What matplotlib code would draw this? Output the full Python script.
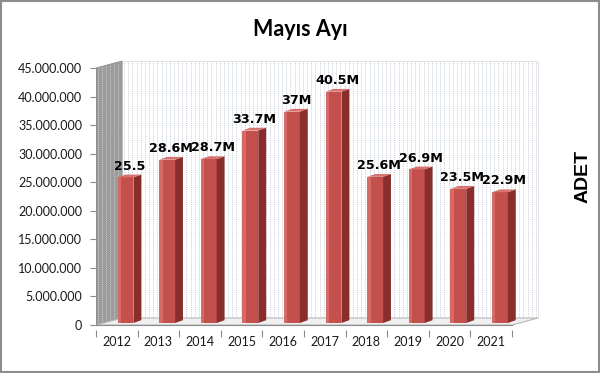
import matplotlib
matplotlib.use("Agg")
import matplotlib.pyplot as plt
from matplotlib.patches import Polygon, Rectangle
import numpy as np

years = ["2012", "2013", "2014", "2015", "2016", "2017", "2018", "2019", "2020", "2021"]
values = [25.5e6, 28.6e6, 28.7e6, 33.7e6, 37.0e6, 40.5e6, 25.6e6, 26.9e6, 23.5e6, 22.9e6]
value_labels = ["25.5", "28.6M", "28.7M", "33.7M", "37M", "40.5M", "25.6M", "26.9M", "23.5M", "22.9M"]
yticks = [0, 5e6, 10e6, 15e6, 20e6, 25e6, 30e6, 35e6, 40e6, 45e6]
title = "Mayıs Ayı"
ylabel = "ADET"

W, H = 600, 373
fig = plt.figure(figsize=(W / 100, H / 100), dpi=100)
fig.patch.set_facecolor("white")

# axes layout (pixel based)
px_left, px_right, px_top, px_bot = 96, 545, 58, 330
ppu = 41.6                    # pixels per category
ppv = 257 / 45e6              # pixels per value unit
ax = fig.add_axes([px_left / W, 1 - px_bot / H, (px_right - px_left) / W, (px_bot - px_top) / H])
ax.set_xlim(-0.5, -0.5 + (px_right - px_left) / ppu)
ax.set_ylim(-(px_bot - 325) / ppv, 45e6 + (68 - px_top) / ppv)
for s in ax.spines.values():
    s.set_visible(False)
ax.patch.set_alpha(0)

n = len(years)
dx, dy = 0.625, 7 / ppv       # depth offset of the plot box
ymax = yticks[-1]

# back wall
ax.add_patch(Polygon([(-0.5 + dx, dy), (n - 0.5 + dx, dy), (n - 0.5 + dx, ymax + dy), (-0.5 + dx, ymax + dy)],
                     closed=True, facecolor="white", edgecolor="#dcdcdc", lw=0.6, zorder=1))
for xv in np.arange(-0.5 + dx + 0.05, n - 0.5 + dx, 0.1):
    ax.vlines(xv, dy, ymax + dy, colors="#c4ccd6", lw=0.7, linestyles=(0, (1, 1.2)), zorder=1.2)

# left side wall
ax.add_patch(Polygon([(-0.5, 0), (-0.5 + dx, dy), (-0.5 + dx, ymax + dy), (-0.5, ymax)],
                     closed=True, facecolor="#9c9c9c", edgecolor="none", lw=0, zorder=1.5))
for xv in np.arange(-0.5 + 0.04, -0.5 + dx, 0.1):
    yb = (xv + 0.5) / dx * dy
    ax.vlines(xv, yb, ymax + yb, colors="#cdcdcd", lw=0.7, linestyles=(0, (1, 1.2)), zorder=1.55)
ax.add_patch(Polygon([(-0.5, 0), (-0.5 + dx, dy), (-0.5 + dx, ymax + dy), (-0.5, ymax)],
                     closed=True, fill=False, edgecolor="#8f8f8f", lw=0.6, zorder=1.6))

# floor
ax.add_patch(Polygon([(-0.5, 0), (n - 0.5, 0), (n - 0.5 + dx, dy), (-0.5 + dx, dy)],
                     closed=True, facecolor="#f0f0f0", edgecolor="#b8b8b8", lw=0.8, zorder=1.7))

# bars
b0 = 0.35e6
bdx, bdy = 0.19, 2.8 / ppv
for i, v in enumerate(values):
    x0, x1 = i + 0.02, i + 0.40
    ax.add_patch(Polygon([(x0, b0), (x1, b0), (x1, b0 + v), (x0, b0 + v)], closed=True,
                         facecolor="#C4504D", edgecolor="none", zorder=3))
    ax.add_patch(Polygon([(x0, b0), (x0 + 0.08, b0), (x0 + 0.08, b0 + v), (x0, b0 + v)], closed=True,
                         facecolor="#D66A66", edgecolor="none", zorder=3.1))
    ax.add_patch(Polygon([(x1, b0), (x1 + bdx, b0 + bdy), (x1 + bdx, b0 + v + bdy), (x1, b0 + v)], closed=True,
                         facecolor="#8A2E2C", edgecolor="none", zorder=3))
    ax.add_patch(Polygon([(x0, b0 + v), (x1, b0 + v), (x1 + bdx, b0 + v + bdy), (x0 + bdx, b0 + v + bdy)],
                         closed=True, facecolor="#D8726E", edgecolor="none", zorder=3.2))
    ax.text((x0 + x1 + bdx) / 2, b0 + v + bdy + 5 / ppv, value_labels[i], ha="center", va="baseline",
            fontsize=9.2, fontweight="bold", family="DejaVu Sans", color="black", zorder=5)

# y axis line and ticks
ax.plot([-0.5, -0.5], [0, ymax], color="#8c8c8c", lw=0.8, zorder=2)
ax.set_yticks(yticks)
ax.set_yticklabels([f"{int(t):,}".replace(",", ".") for t in yticks], family="Lato", fontsize=9, color="#1a1a1a")
ax.tick_params(axis="y", length=4, width=0.8, color="#8c8c8c", pad=6)

# x axis
ax.set_xticks(range(n))
ax.set_xticklabels(years, family="Lato", fontsize=9, color="#1a1a1a")
ax.set_xticks(np.arange(-0.5, n, 1.0), minor=True)
ax.tick_params(axis="x", which="major", length=0, pad=4)
ax.tick_params(axis="x", which="minor", length=5, width=0.8, color="#8c8c8c")
ax.plot([-0.5, n - 0.5], [0, 0], color="#8c8c8c", lw=0.8, zorder=2)

fig.text(300 / W, 1 - 30 / H, title, ha="center", va="center", fontsize=15.5, fontweight="bold", family="Lato")
fig.text(583 / W, 1 - 176 / H, ylabel, ha="center", va="center", rotation=90, fontsize=14,
         fontweight="bold", family="Liberation Sans")

fig.add_artist(Rectangle((0.002, 0.003), 0.996, 0.994, transform=fig.transFigure, fill=False,
                         edgecolor="#8c8c8c", lw=1.5))

fig.savefig("out.png", dpi=100, facecolor="white")
